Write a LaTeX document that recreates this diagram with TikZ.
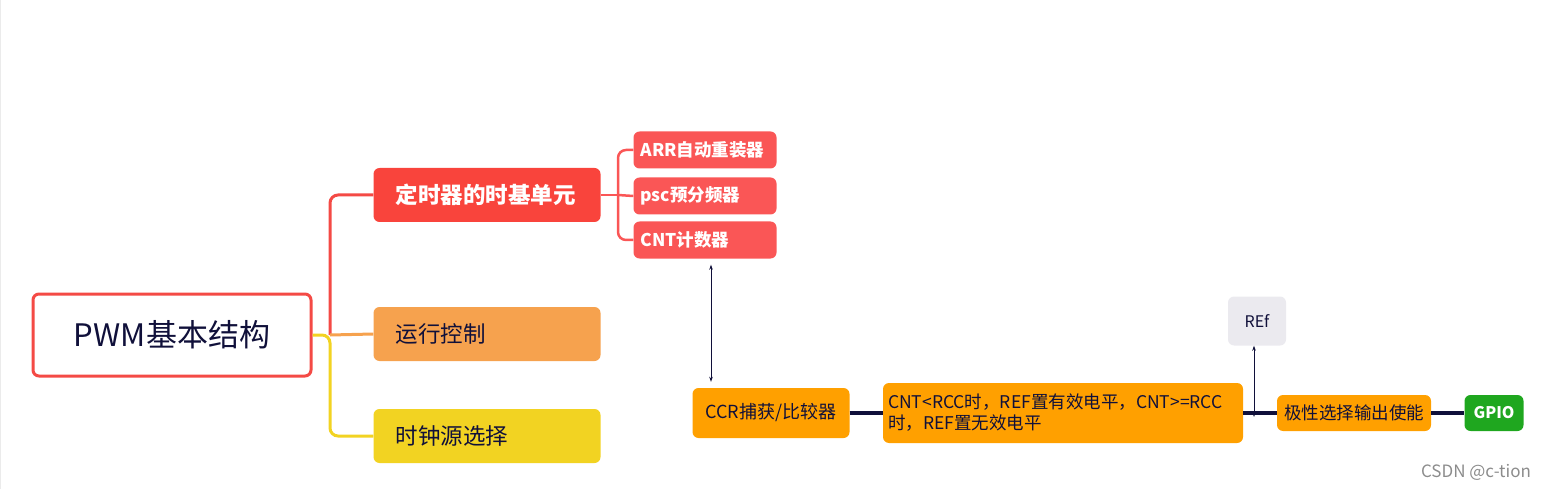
\documentclass[tikz,border=0pt]{standalone}
\usepackage{fontspec}
\setmainfont{Noto Sans CJK SC}
\usetikzlibrary{arrows.meta}
\definecolor{rootred}{HTML}{F44A45}
\definecolor{baseRed}{HTML}{F9443C}
\definecolor{subRed}{HTML}{FA5656}
\definecolor{runOrange}{HTML}{F6A24E}
\definecolor{clkYellow}{HTML}{F2D322}
\definecolor{cmpOrange}{HTML}{FFA000}
\definecolor{refGray}{HTML}{EBEAEF}
\definecolor{gpioGreen}{HTML}{1FA71F}
\definecolor{navy}{HTML}{10103A}
\begin{document}
\begin{tikzpicture}[
    x=1pt,y=-1pt,
    >={Stealth[length=5pt,width=3.5pt]},
    box/.style={rounded corners=6pt,inner sep=0pt,anchor=center},
    branch/.style={box,text width=183pt,align=left,inner xsep=22pt,
        minimum height=54pt,font=\fontsize{22.5}{26}\selectfont},
    leaf/.style={box,fill=subRed,text=white,text width=129pt,align=left,
        inner xsep=7pt,minimum height=37pt,
        font=\fontsize{17.5}{20}\selectfont\bfseries},
    stage/.style={box,fill=cmpOrange,text=navy,
        font=\fontsize{17.5}{21}\selectfont},
    wire/.style={navy,line width=3.2pt},
    limb/.style={line width=3pt,rounded corners=8pt}]
    \useasboundingbox (0,0) rectangle (1550,489);
    \draw[black!8] (0.6,0) -- (0.6,489);
    % root and first level
    \node[box,draw=rootred,line width=3pt,fill=white,text=navy,
        minimum width=278pt,minimum height=82pt,
        font=\fontsize{31}{35}\selectfont] (root) at (172,335) {PWM基本结构};
    \node[branch,fill=baseRed,text=white,font=\fontsize{22.5}{26}\selectfont\bfseries]
        (timebase) at (487,195) {定时器的时基单元};
    \node[branch,fill=runOrange,text=navy] (run) at (487,334) {运行控制};
    \node[branch,fill=clkYellow,text=navy] (clock) at (487,436) {时钟源选择};
    \coordinate (trunk) at (330,335);
    \draw[limb,rootred] (trunk) |- (timebase.west);
    \draw[limb,clkYellow] (root.east) -- (trunk) |- (clock.west);
    \draw[limb,runOrange] (trunk) -- (run.west);
    % time base unit
    \node[leaf] (arr) at (705,150) {ARR自动重装器};
    \node[leaf] (psc) at (705,196) {psc预分频器};
    \node[leaf] (cnt) at (705,240) {CNT计数器};
    \coordinate (fork) at (618,195);
    \draw[limb,subRed,line width=2.5pt] (timebase.east) -- (fork);
    \draw[limb,subRed,line width=2.5pt] (fork) |- (arr.west);
    \draw[limb,subRed,line width=2.5pt] (fork) |- (cnt.west);
    \draw[subRed,line width=2.5pt] (fork) -- (psc.west);
    % compare chain
    \node[stage,minimum width=157pt,minimum height=50pt,
        font=\fontsize{18}{21}\selectfont] (ccr) at (771,413) {CCR捕获/比较器};
    \node[stage,text width=350pt,inner xsep=5pt,minimum height=60pt,
        align=left] (cmp) at (1063,413)
        {CNT<RCC时，REF置有效电平，CNT>=RCC\\时，REF置无效电平};
    \node[stage,minimum width=154pt,minimum height=36pt] (pol) at (1354,413)
        {极性选择输出使能};
    \node[box,fill=gpioGreen,text=white,minimum width=59pt,minimum height=36pt,
        font=\fontsize{16}{19}\selectfont\bfseries] (gpio) at (1494,413) {GPIO};
    \node[box,fill=refGray,text=navy,minimum width=58pt,minimum height=49pt,
        font=\fontsize{16}{19}\selectfont] (ref) at (1257,321) {REf};
    \draw[navy,<->,line width=0.8pt] ([xshift=6pt,yshift=-6pt]cnt.south)
        -- ([xshift=6pt,yshift=6pt]cnt.south |- ccr.north);
    \draw[wire] (ccr) -- (cmp);
    \draw[wire] (cmp) -- (pol);
    \draw[wire] (pol) -- (gpio);
    \coordinate (tap) at (1254,417);
    \draw[navy,<->,line width=0.8pt] (tap) -- (tap |- ref.south);
    \node[text=black!45,font=\fontsize{17}{19}\selectfont] (mark) at (1476,472)
        {CSDN @c-tion};
\end{tikzpicture}
\end{document}
